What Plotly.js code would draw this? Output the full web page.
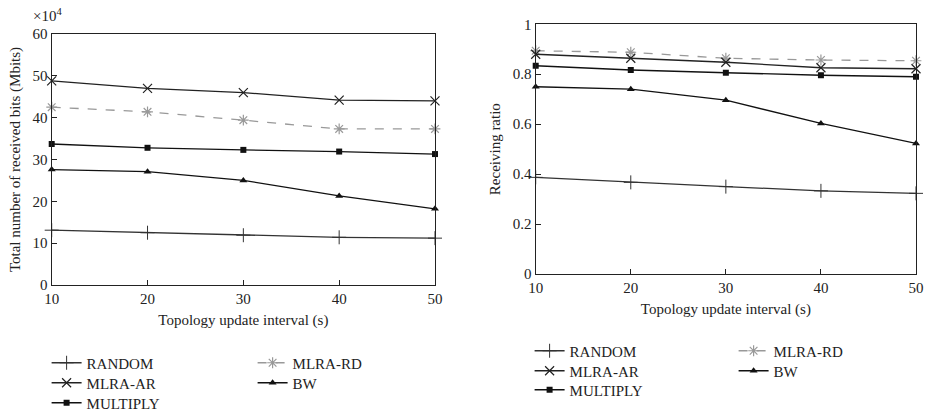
<!DOCTYPE html>
<html>
<head>
<meta charset="utf-8">
<script src="https://cdn.plot.ly/plotly-3.0.1.min.js"></script>
<style>html,body{margin:0;padding:0;background:#fff;}#chart{width:931px;height:412px;}</style>
</head>
<body>
<div id="chart"></div>
<script>
// Shared x categories
const intervals = [10, 20, 30, 40, 50];
const seriesNames = ['RANDOM', 'MLRA-RD', 'MLRA-AR', 'BW', 'MULTIPLY'];

// Left chart: total received bits (x10^4 Mbits)
const bitsRandom   = [13.1, 12.5, 11.9, 11.4, 11.2];
const bitsMlraRd   = [42.5, 41.4, 39.4, 37.3, 37.3];
const bitsMlraAr   = [48.8, 47.0, 46.0, 44.2, 44.0];
const bitsBw       = [27.6, 27.1, 25.0, 21.3, 18.2];
const bitsMultiply = [33.7, 32.8, 32.3, 31.9, 31.3];

// Right chart: receiving ratio
const ratioRandom   = [0.387, 0.367, 0.350, 0.333, 0.323];
const ratioMlraRd   = [0.894, 0.888, 0.864, 0.857, 0.854];
const ratioMlraAr   = [0.880, 0.864, 0.848, 0.826, 0.822];
const ratioBw       = [0.750, 0.740, 0.696, 0.603, 0.523];
const ratioMultiply = [0.834, 0.817, 0.806, 0.796, 0.790];

const yTicksBits = [0, 10, 20, 30, 40, 50, 60];
const yTicksRatio = [0, 0.2, 0.4, 0.6, 0.8, 1];
const yTickTextRatio = ['0', '0.2', '0.4', '0.6', '0.8', '1'];

const FONT = 'Liberation Serif, DejaVu Serif, serif';
const styles = {
  'RANDOM':   {line:{color:'#333', width:1.3}, marker:{symbol:'cross-thin-open', size:10, color:'#333', line:{color:'#333', width:1}}},
  'MLRA-RD':  {line:{color:'#999', width:1.3, dash:'dash'}, marker:{symbol:'asterisk-open', size:9, color:'#999', line:{color:'#999', width:1.2}}},
  'MLRA-AR':  {line:{color:'#222', width:1.3}, marker:{symbol:'x-thin-open', size:9, color:'#222', line:{color:'#222', width:1.2}}},
  'BW':       {line:{color:'#111', width:1.3}, marker:{symbol:'triangle-up', size:7, color:'#111'}},
  'MULTIPLY': {line:{color:'#111', width:1.3}, marker:{symbol:'square', size:6, color:'#111'}}
};
// legend row for each series (two entries per row, as in the reference)
const legendRow = {'RANDOM': 0, 'MLRA-RD': 0, 'MLRA-AR': 1, 'BW': 1, 'MULTIPLY': 2};

const leftData = {'RANDOM':bitsRandom,'MLRA-RD':bitsMlraRd,'MLRA-AR':bitsMlraAr,'BW':bitsBw,'MULTIPLY':bitsMultiply};
const rightData = {'RANDOM':ratioRandom,'MLRA-RD':ratioMlraRd,'MLRA-AR':ratioMlraAr,'BW':ratioBw,'MULTIPLY':ratioMultiply};

const legendIds = ['legend', 'legend2', 'legend3', 'legend4', 'legend5', 'legend6'];

const traces = [];
seriesNames.forEach(n => {
  traces.push(Object.assign({
    x: intervals, y: leftData[n], name: n, type: 'scatter', mode: 'lines+markers',
    xaxis: 'x', yaxis: 'y', legend: legendIds[legendRow[n]], cliponaxis: false
  }, JSON.parse(JSON.stringify(styles[n]))));
});
seriesNames.forEach(n => {
  traces.push(Object.assign({
    x: intervals, y: rightData[n], name: n, type: 'scatter', mode: 'lines+markers',
    xaxis: 'x2', yaxis: 'y2', legend: legendIds[3 + legendRow[n]], cliponaxis: false
  }, JSON.parse(JSON.stringify(styles[n]))));
});

const axisCommon = {
  showgrid: false, zeroline: false, showline: true, mirror: true,
  linecolor: '#222', linewidth: 1.2, ticks: 'inside', ticklen: 5, tickcolor: '#222',
  tickfont: {family: FONT, size: 15, color: '#222'}, automargin: false
};

const W = 931, H = 412;
const px = p => p / W;
const py = p => (H - p) / H;

function mkLegend(xPix, rowCenterPix, ew) {
  return {
    orientation: 'h', font: {family: FONT, size: 15, color: '#222'},
    entrywidth: ew, entrywidthmode: 'pixels', bgcolor: 'rgba(0,0,0,0)',
    xanchor: 'left', yanchor: 'top', x: px(xPix), y: py(rowCenterPix - 16.5), borderwidth: 0
  };
}

const titleFont = {family: FONT, size: 15, color: '#222'};

const layout = {
  width: W, height: H,
  margin: {l: 0, r: 0, t: 0, b: 0, autoexpand: false},
  paper_bgcolor: '#fff', plot_bgcolor: '#fff',
  font: {family: FONT, color: '#222'},
  xaxis: Object.assign({}, axisCommon, {
    domain: [px(51.7), px(435)], range: [10, 50], tickvals: intervals, anchor: 'y',
    title: {text: 'Topology update interval (s)', font: titleFont, standoff: 8}
  }),
  yaxis: Object.assign({}, axisCommon, {
    domain: [py(285), py(34)], range: [0, 60], tickvals: yTicksBits, anchor: 'x',
    title: {text: 'Total number of received bits (Mbits)', font: titleFont, standoff: 8}
  }),
  xaxis2: Object.assign({}, axisCommon, {
    domain: [px(535.7), px(916)], range: [10, 50], tickvals: intervals, anchor: 'y2',
    title: {text: 'Topology update interval (s)', font: titleFont, standoff: 8}
  }),
  yaxis2: Object.assign({}, axisCommon, {
    domain: [py(274), py(24.3)], range: [0, 1], tickvals: yTicksRatio, ticktext: yTickTextRatio, anchor: 'x2',
    title: {text: 'Receiving ratio', font: titleFont, standoff: 8}
  }),
  legend:  mkLegend(46.6, 363, 161),
  legend2: mkLegend(46.6, 383, 161),
  legend3: mkLegend(46.6, 403, 161),
  legend4: mkLegend(529.6, 351, 159),
  legend5: mkLegend(529.6, 371, 159),
  legend6: mkLegend(529.6, 390, 159),
  annotations: [{
    xref: 'paper', yref: 'paper', x: px(31), y: py(15), xanchor: 'left', yanchor: 'middle',
    text: '×10<sup>4</sup>', showarrow: false, font: {family: FONT, size: 15, color: '#222'}
  }]
};

Plotly.newPlot('chart', traces, layout, {staticPlot: true, displayModeBar: false});
</script>
</body>
</html>
